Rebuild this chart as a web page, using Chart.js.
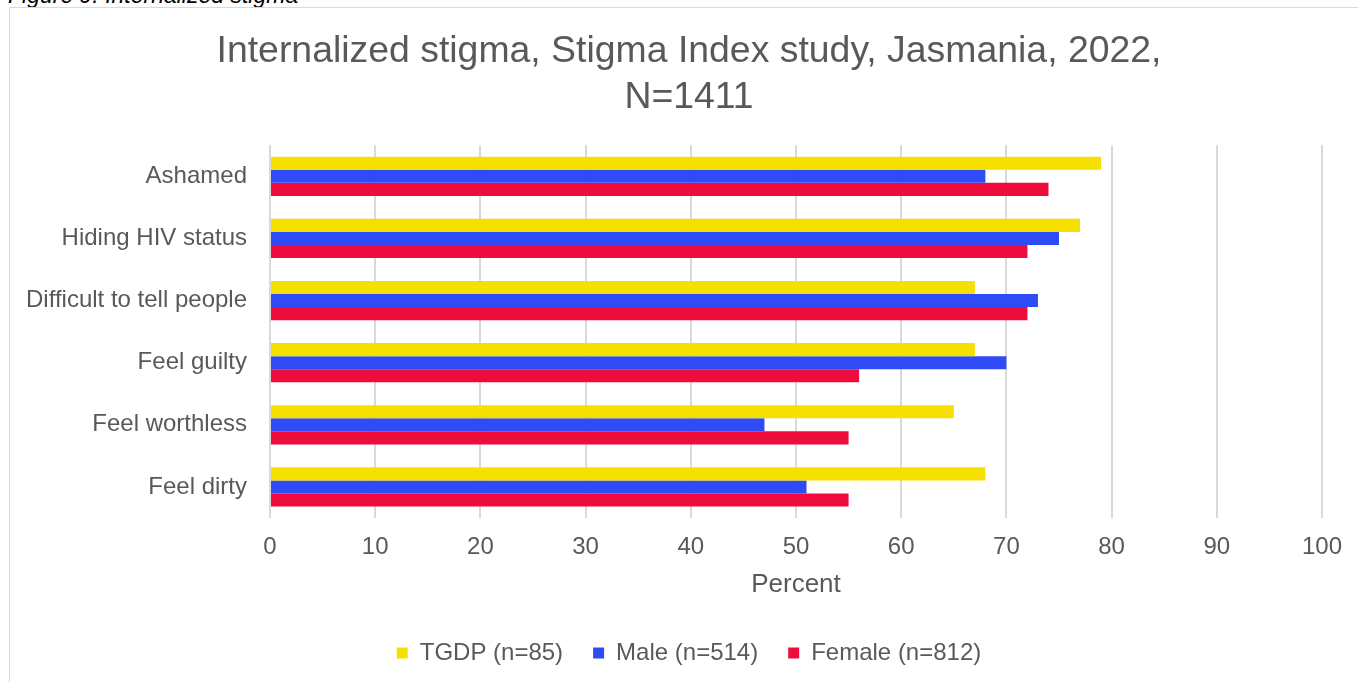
<!DOCTYPE html>
<html lang="en">
<head>
  <meta charset="UTF-8" />
  <title>Internalized stigma</title>
  <script src="https://cdn.jsdelivr.net/npm/chart.js"></script>
  <style>
    body {
      margin: 0;
      width: 1358px;
      height: 682px;
      overflow: hidden;
      background: #ffffff;
      font-family: 'Liberation Sans', Arial, sans-serif;
      position: relative;
    }
    .caption {
      position: absolute;
      left: 8px;
      top: -18px;
      font-size: 23px;
      font-style: italic;
      color: #000;
      white-space: nowrap;
    }
    .frame {
      position: absolute;
      left: 9px;
      top: 7px;
      width: 1360px;
      height: 690px;
      border-left: 1px solid #d9d9d9;
      border-top: 1px solid #d9d9d9;
    }
    #stigmaChart {
      position: absolute;
      left: 1px;
      top: 1px;
    }
  </style>
</head>
<body>
  <div class="caption">Figure 9: Internalized stigma</div>
  <div class="frame">
    <canvas id="stigmaChart" width="1348" height="674"></canvas>
  </div>

  <script>
    // values (percent)
    const categories = ['Ashamed', 'Hiding HIV status', 'Difficult to tell people', 'Feel guilty', 'Feel worthless', 'Feel dirty'];
    const seriesNames = ['TGDP (n=85)', 'Male (n=514)', 'Female (n=812)'];
    const tgdpValues = [79, 77, 67, 67, 65, 68];
    const maleValues = [68, 75, 73, 70, 47, 51];
    const femaleValues = [74, 72, 72, 56, 55, 55];
    const xMin = 0, xMax = 100, xStep = 10;

    const textColor = '#595959';
    const font = 'Liberation Sans, Arial, sans-serif';

    const ctx = document.getElementById('stigmaChart').getContext('2d');
    new Chart(ctx, {
      type: 'bar',
      data: {
        labels: categories,
        datasets: [
          { label: seriesNames[0], data: tgdpValues, backgroundColor: '#f5e000' },
          { label: seriesNames[1], data: maleValues, backgroundColor: '#2e4bf5' },
          { label: seriesNames[2], data: femaleValues, backgroundColor: '#ee0c3d' }
        ]
      },
      options: {
        indexAxis: 'y',
        responsive: false,
        animation: false,
        categoryPercentage: 0.63,
        barPercentage: 1,
        layout: { padding: { left: 8, right: 0, top: 0, bottom: 8 } },
        plugins: {
          title: {
            display: true,
            text: ['Internalized stigma, Stigma Index study, Jasmania, 2022,', 'N=1411'],
            color: textColor,
            font: { family: font, size: 37.4, weight: 'normal', lineHeight: 1.22 },
            padding: { top: 20, bottom: 25 }
          },
          legend: {
            position: 'bottom',
            labels: {
              color: textColor,
              boxWidth: 11,
              boxHeight: 11,
              padding: 30,
              font: { family: font, size: 24 }
            }
          },
          tooltip: { enabled: false }
        },
        scales: {
          x: {
            min: xMin,
            max: xMax,
            ticks: {
              stepSize: xStep,
              color: textColor,
              padding: 15,
              font: { family: font, size: 24 }
            },
            grid: { color: '#d9d9d9', lineWidth: 2, drawTicks: false },
            border: { display: false },
            title: {
              display: true,
              text: 'Percent',
              color: textColor,
              font: { family: font, size: 26 },
              padding: { top: -8, bottom: 11 }
            },
            // leave room on the right of the plot without moving the title
            afterFit: (scale) => { scale.paddingRight = 37; }
          },
          y: {
            ticks: {
              color: textColor,
              padding: 15,
              font: { family: font, size: 24 }
            },
            grid: { display: false },
            border: { display: false },
            afterFit: (scale) => { scale.width = 251; }
          }
        }
      }
    });
  </script>
</body>
</html>
